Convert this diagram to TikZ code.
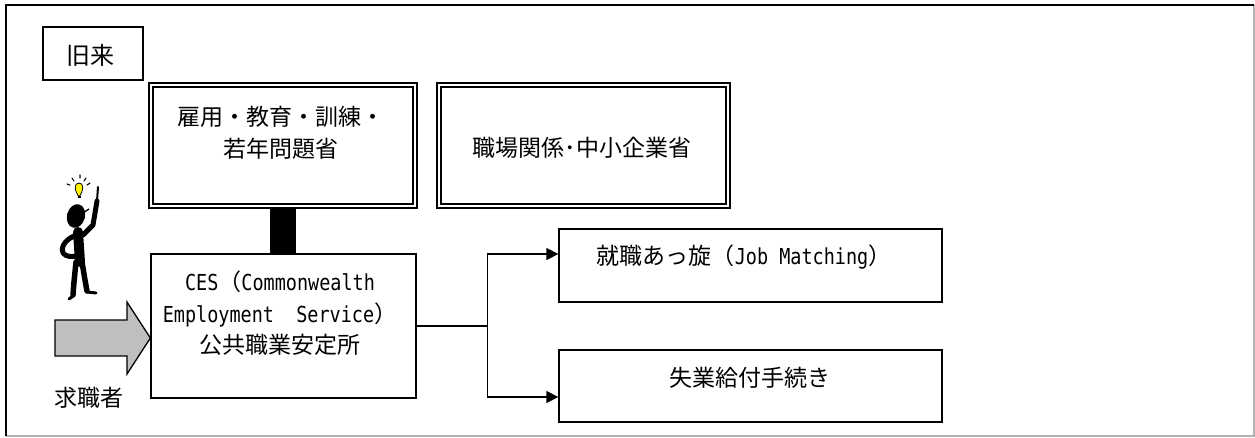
\documentclass[tikz,border=0pt]{standalone}
\usepackage{graphicx}
\usepackage{fontspec}
\setmainfont{Noto Sans CJK JP}
\newfontfamily\monolatin{DejaVu Sans Mono}
\usetikzlibrary{arrows.meta}

% narrow half-width Latin, as set beside the Japanese text
\newcommand\halfw[1]{\scalebox{0.84}[1]{\monolatin\fontsize{22}{31.5}\selectfont #1}}

\tikzset{
  plainbox/.style={draw=black, line width=1.3pt, fill=white, inner sep=0pt},
  ministry/.style={draw=black, line width=2pt, double=white, double distance=2pt, inner sep=0pt},
  jp/.style={font=\fontsize{23}{31.5}\selectfont, inner sep=0pt, align=center},
  flow/.style={line width=1.3pt},
  flowarrow/.style={line width=1.3pt, -{Triangle[length=12pt,width=12pt]}},
  ink/.style={line cap=round, line join=round, draw=black},
}

\begin{document}
\begin{tikzpicture}[x=1pt, y=-1pt]
\useasboundingbox (0,0) rectangle (1255,437);

% outer frame
\draw[gray!60, line width=1.2pt] (1254,5) -- (1254,436) -- (6,436);
\draw[black, line width=1.8pt] (6,436) -- (6,5) -- (1254,5);

% heading
\node[plainbox, minimum width=100pt, minimum height=53pt] (era) at (93,53.5) {};
\node[jp, font=\fontsize{24}{30}\selectfont] (eratext) at (90,55) {旧来};

% ministries
\node[ministry, minimum width=264pt, minimum height=121pt] (min1) at (283,145.5) {};
\node[jp] (min1text) at (281,133) {雇用・教育・訓練・\\若年問題省};
\node[ministry, minimum width=289pt, minimum height=121pt] (min2) at (583.5,145.5) {};
\node[jp] (min2text) at (582,148) {職場関係･中小企業省};

% employment service
\node[plainbox, minimum width=265pt, minimum height=144pt] (ces) at (283.5,326) {};
\node[jp] (cestext) at (280,313.5)
  {\halfw{CES}（\halfw{Commonwealth}\\\halfw{Employment\ \ Service}）\\公共職業安定所};

% thick link between ministry and service
\fill[black] (min1.south -| 270,0) rectangle (ces.north -| 296,0);

% services
\node[plainbox, minimum width=383pt, minimum height=73pt] (job) at (750.5,265.5) {};
\node[jp] (jobtext) at (744,257) {就職あっ旋（\halfw{Job Matching}）};
\node[plainbox, minimum width=383pt, minimum height=72pt] (benefit) at (750.5,386) {};
\node[jp] (benefittext) at (750,378) {失業給付手続き};

% branching connector
\draw[flow] (ces.east) -- ++(71,0) coordinate (split);
\draw[flowarrow] (split) |- (job.west |- 0,254);
\draw[flowarrow] (split) |- (benefit.west |- 0,397);

% job seeker arrow
\draw[fill=gray!50, line width=1.3pt, line join=miter]
  (55,320) -- (127,320) -- (127,302) -- (ces.west |- 0,338) -- (127,374) -- (127,356) -- (55,356) -- cycle;
\node[jp] (seeker) at (89,398) {求職者};

% job seeker figure with an idea
\begin{scope}
  % light bulb and rays
  \draw[line width=0.8pt, fill=yellow] (79,197) .. controls (74,190) and (74,183) .. (79,183)
        .. controls (84,183) and (84,190) .. (79,197) -- cycle;
  \draw[line width=1.4pt] (77.5,197) -- (80.5,197);
  \draw[line width=1.1pt, line cap=round]
    (67,184) -- (70,185)  (72,178) -- (74,181)  (80,175) -- (80,178)
    (86,178) -- (84,181)  (90,183) -- (87,185);
  % head with cap peak
  \fill[black, rotate around={-15:(76,216)}] (76,216) ellipse (9pt and 12pt);
  \draw[line width=1.3pt] (83,213) -- (89,209);
  % torso
  \draw[ink, line width=10pt] (78,232) -- (80,262);
  % raised arm and pointing finger
  \draw[ink, line width=5pt] (83,235) -- (93,225) -- (97,201);
  \draw[line width=2pt, line cap=round] (97,201) -- (98,187);
  % arm on hip
  \draw[ink, line width=5pt] (74,236) .. controls (63,241) and (61,249) .. (63,253)
        .. controls (66,257) and (72,257) .. (76,256);
  % legs and feet
  \draw[ink, line width=5.5pt] (76,262) -- (74,282) -- (73,295);
  \draw[ink, line width=3pt] (73,296) -- (69,299);
  \draw[ink, line width=5.5pt] (82,262) -- (85,280) -- (87,291);
  \draw[ink, line width=3pt] (87,292) -- (96,293);
\end{scope}
\end{tikzpicture}
\end{document}
